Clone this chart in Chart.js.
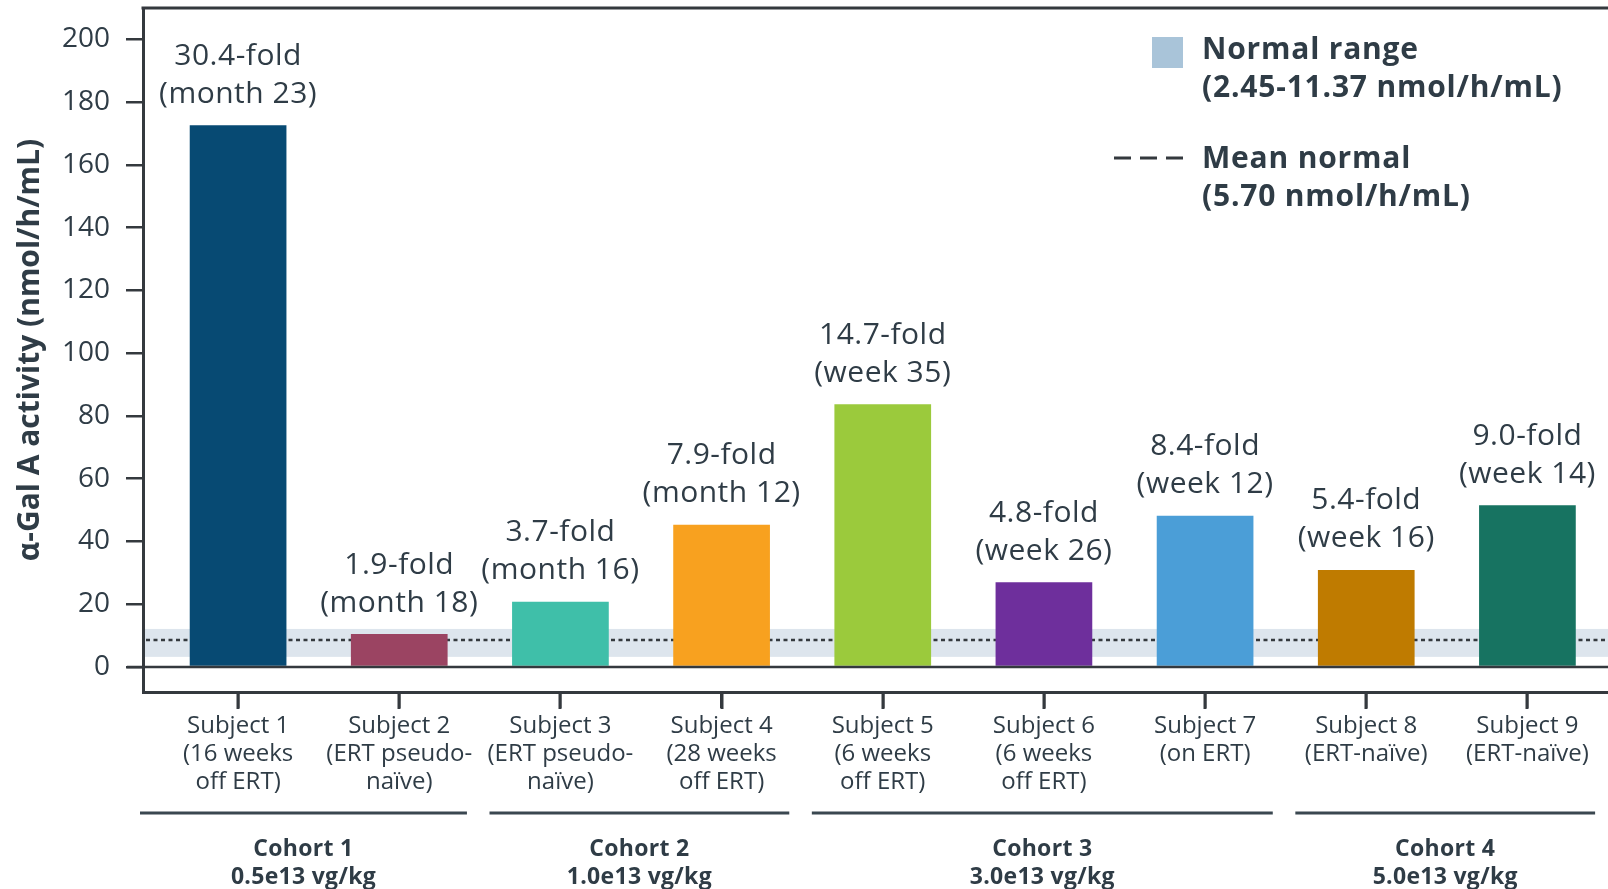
<!DOCTYPE html>
<html>
<head>
<meta charset="utf-8">
<title>α-Gal A activity by subject</title>
<script src="https://cdn.jsdelivr.net/npm/chart.js@4.4.1/dist/chart.umd.min.js"></script>
<style>
  html, body { margin: 0; padding: 0; background: #fff; }
  #wrap { width: 1608px; height: 889px; }
</style>
</head>
<body>
<div id="wrap"><canvas id="galChart" width="1608" height="889"></canvas></div>
<script>
// values
const subjects = [
  ['Subject 1', '(16 weeks', 'off ERT)'],
  ['Subject 2', '(ERT pseudo-', 'naïve)'],
  ['Subject 3', '(ERT pseudo-', 'naïve)'],
  ['Subject 4', '(28 weeks', 'off ERT)'],
  ['Subject 5', '(6 weeks', 'off ERT)'],
  ['Subject 6', '(6 weeks', 'off ERT)'],
  ['Subject 7', '(on ERT)'],
  ['Subject 8', '(ERT-naïve)'],
  ['Subject 9', '(ERT-naïve)']
];
const activity = [172.6, 10.5, 20.8, 45.3, 83.7, 27.0, 48.2, 30.9, 51.5];
const foldLabels = ['30.4-fold', '1.9-fold', '3.7-fold', '7.9-fold', '14.7-fold', '4.8-fold', '8.4-fold', '5.4-fold', '9.0-fold'];
const timepoints = ['(month 23)', '(month 18)', '(month 16)', '(month 12)', '(week 35)', '(week 26)', '(week 12)', '(week 16)', '(week 14)'];
const barColors = ['#074a73', '#9b4462', '#3fbfa9', '#f8a11f', '#9bca3c', '#6e2f9c', '#4b9ed7', '#bf7b00', '#177361'];

const cohortNames = ['Cohort 1', 'Cohort 2', 'Cohort 3', 'Cohort 4'];
const cohortDoses = ['0.5e13 vg/kg', '1.0e13 vg/kg', '3.0e13 vg/kg', '5.0e13 vg/kg'];
const cohortFirst = [0, 2, 4, 7];
const cohortLast = [1, 3, 6, 8];

const normalRange = [3.2, 12.1];
const meanNormal = 8.6;
const yTicks = [0, 20, 40, 60, 80, 100, 120, 140, 160, 180, 200];

const TEXT = '#2f3c46';
const LINE = '#34393e';
const FONT = "'Open Sans', sans-serif";

const extras = {
  id: 'extras',
  beforeDatasetsDraw(chart) {
    const { ctx, chartArea: a, scales: { y } } = chart;
    ctx.save();
    const top = y.getPixelForValue(normalRange[1]);
    const bot = y.getPixelForValue(normalRange[0]);
    ctx.fillStyle = '#dde5ed';
    ctx.fillRect(a.left + 2, top, a.right - a.left, bot - top);
    const m = y.getPixelForValue(meanNormal);
    ctx.strokeStyle = LINE;
    ctx.lineWidth = 2.5;
    ctx.setLineDash([4, 3.5]);
    ctx.beginPath();
    ctx.moveTo(a.left + 3, m);
    ctx.lineTo(a.right, m);
    ctx.stroke();
    ctx.restore();
  },
  afterDatasetsDraw(chart) {
    const { ctx, chartArea: a, scales: { x, y } } = chart;
    ctx.save();

    // zero line and top of the frame
    ctx.strokeStyle = LINE;
    ctx.lineWidth = 2.5;
    const z = y.getPixelForValue(0);
    ctx.beginPath();
    ctx.moveTo(a.left - 16, z);
    ctx.lineTo(a.right, z);
    ctx.stroke();
    ctx.lineWidth = 3;
    ctx.beginPath();
    ctx.moveTo(a.left - 1.5, a.top);
    ctx.lineTo(a.right, a.top);
    ctx.stroke();

    // fold labels over bars
    ctx.fillStyle = TEXT;
    ctx.font = '30px ' + FONT;
    ctx.letterSpacing = '0.5px';
    ctx.textAlign = 'center';
    ctx.textBaseline = 'middle';
    chart.getDatasetMeta(0).data.forEach((bar, i) => {
      ctx.fillText(foldLabels[i], bar.x, bar.y - 69);
      ctx.fillText(timepoints[i], bar.x, bar.y - 31);
    });

    // cohort brackets
    ctx.letterSpacing = '0.3px';
    cohortNames.forEach((name, i) => {
      const x0 = i === 0 ? a.left - 3 : x.getPixelForValue(cohortFirst[i] - 0.44);
      const x1 = Math.min(x.getPixelForValue(cohortLast[i] + 0.42), a.right - 3);
      ctx.strokeStyle = '#3a4750';
      ctx.lineWidth = 3;
      ctx.beginPath();
      ctx.moveTo(x0, 813);
      ctx.lineTo(x1, 813);
      ctx.stroke();
      const cx = (x0 + x1) / 2;
      ctx.font = 'bold 23px ' + FONT;
      ctx.fillText(name, cx, 849);
      ctx.fillText(cohortDoses[i], cx, 877);
    });

    // legend
    ctx.fillStyle = '#a9c4d9';
    ctx.fillRect(1152, 37, 31, 31);
    ctx.fillStyle = TEXT;
    ctx.textAlign = 'left';
    ctx.font = 'bold 30px ' + FONT;
    ctx.letterSpacing = '0.8px';
    ctx.fillText('Normal range', 1202, 50);
    ctx.fillText('(2.45-11.37 nmol/h/mL)', 1202, 88);
    ctx.fillText('Mean normal', 1202, 159);
    ctx.fillText('(5.70 nmol/h/mL)', 1202, 197);
    ctx.strokeStyle = LINE;
    ctx.lineWidth = 3;
    ctx.setLineDash([17, 9]);
    ctx.beginPath();
    ctx.moveTo(1114, 158);
    ctx.lineTo(1183, 158);
    ctx.stroke();

    ctx.restore();
  },
  afterDraw(chart) {
    // x tick marks hanging below the frame
    const { ctx, chartArea: a, scales: { x } } = chart;
    ctx.save();
    ctx.fillStyle = LINE;
    subjects.forEach((_, i) => {
      const px = Math.round(x.getPixelForValue(i));
      ctx.fillRect(px - 1.5, a.bottom, 3, 17);
    });
    ctx.restore();
  }
};

new Chart(document.getElementById('galChart'), {
  type: 'bar',
  data: {
    datasets: [{
      data: activity.map((v, i) => ({ x: i, y: v })),
      backgroundColor: barColors,
      borderWidth: 0,
      barPercentage: 0.6,
      categoryPercentage: 1.0
    }]
  },
  options: {
    responsive: false,
    animation: false,
    layout: { padding: { top: 8, right: 0, left: 0, bottom: 0 } },
    plugins: { legend: { display: false }, tooltip: { enabled: false } },
    scales: {
      x: {
        type: 'linear',
        min: -0.59,
        max: 8.5,
        offset: false,
        afterBuildTicks: s => { s.ticks = subjects.map((_, i) => ({ value: i })); },
        afterFit: s => { s.height = 197; s.paddingLeft = 0; s.paddingRight = 0; },
        border: { display: true, color: LINE, width: 3 },
        grid: { offset: false, drawOnChartArea: false, drawTicks: true, tickLength: 16, color: LINE, lineWidth: 2.5 },
        ticks: {
          autoSkip: false,
          maxRotation: 0,
          padding: 4,
          color: TEXT,
          font: { family: FONT, size: 24, lineHeight: '28px' },
          callback: v => subjects[v]
        }
      },
      y: {
        min: -8,
        max: 210,
        afterBuildTicks: s => { s.ticks = yTicks.map(v => ({ value: v })); },
        afterFit: s => { s.width = 143; s.paddingTop = 0; s.paddingBottom = 0; },
        border: { display: true, color: LINE, width: 3 },
        grid: { drawOnChartArea: false, drawTicks: true, tickLength: 17, color: LINE, lineWidth: 2.5 },
        ticks: {
          padding: 16,
          color: TEXT,
          font: { family: FONT, size: 28 }
        },
        title: {
          display: true,
          text: 'α-Gal A activity (nmol/h/mL)',
          color: TEXT,
          padding: { top: 12, bottom: 0 },
          font: { family: FONT, size: 30, weight: 'bold' }
        }
      }
    }
  },
  plugins: [extras]
});
</script>
</body>
</html>
